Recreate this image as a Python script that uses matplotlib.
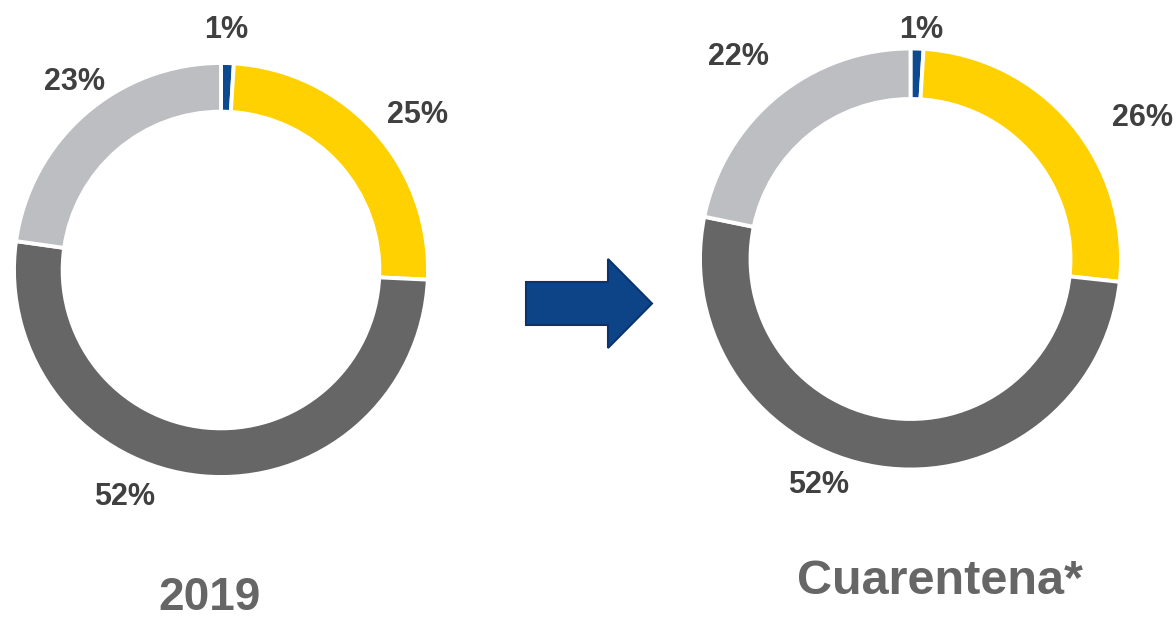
import matplotlib
matplotlib.use("Agg")
import matplotlib.pyplot as plt
import numpy as np

categories = ["Azul", "Amarillo", "Gris oscuro", "Gris claro"]
values_2019 = [1, 25, 52, 23]
values_cuarentena = [1, 26, 52, 22]
labels_2019 = ["1%", "25%", "52%", "23%"]
labels_cuarentena = ["1%", "26%", "52%", "22%"]
titles = ["2019", "Cuarentena*"]

colors = ["#0D4A8F", "#FFD100", "#666666", "#BDBEC2"]

W, H = 1176, 620
fig = plt.figure(figsize=(W / 100, H / 100), dpi=100)
plt.rcParams['font.family'] = ['Liberation Sans', 'DejaVu Sans']

def donut(cx, cy, r, ring, vals, labs, label_pos, title, title_xy, title_size):
    half = 1.4
    size = r * half * 2
    ax = fig.add_axes([(cx - r * half) / W, (H - cy - r * half) / H, size / W, size / H])
    wedges, _ = ax.pie(vals, colors=colors, startangle=90, counterclock=False,
                       radius=1.0, wedgeprops=dict(width=ring, edgecolor="white", linewidth=2.8))
    ax.set_xlim(-half, half)
    ax.set_ylim(-half, half)
    ax.set_aspect("equal")
    ax.axis("off")
    for lab, (ang, dist) in zip(labs, label_pos):
        a = np.deg2rad(ang)
        ax.text(dist * np.cos(a), dist * np.sin(a), lab, ha="center", va="center",
                fontsize=22, fontweight="bold", color="#404040", clip_on=False)
    fig.text(title_xy[0] / W, 1 - title_xy[1] / H, title, ha="center", va="center",
             fontsize=title_size, fontweight="bold", color="#666666")

donut(221, 270, 207, 0.235, values_2019, labels_2019,
      [(88.8, 1.16), (38.2, 1.21), (-113, 1.19), (128, 1.15)], titles[0], (210, 598), 33)
donut(910.5, 259, 210.5, 0.24, values_cuarentena, labels_cuarentena,
      [(87.4, 1.09), (31.3, 1.29), (-112, 1.16), (130.5, 1.26)], titles[1], (940, 582), 35)

# arrow between the charts
axa = fig.add_axes([0, 0, 1, 1])
axa.set_xlim(0, W)
axa.set_ylim(H, 0)
axa.axis("off")
axa.patch.set_alpha(0)
shaft_y0, shaft_y1 = 282, 325
head_y0, head_y1 = 259, 348
x0, xh, x1 = 526, 608, 652
arrow_pts = [(x0, shaft_y0), (xh, shaft_y0), (xh, head_y0), (x1, (head_y0 + head_y1) / 2),
             (xh, head_y1), (xh, shaft_y1), (x0, shaft_y1)]
axa.add_patch(plt.Polygon(arrow_pts, closed=True, facecolor="#0D4488", edgecolor="#0A3470", linewidth=1.5))

fig.savefig("out.png", dpi=100)
